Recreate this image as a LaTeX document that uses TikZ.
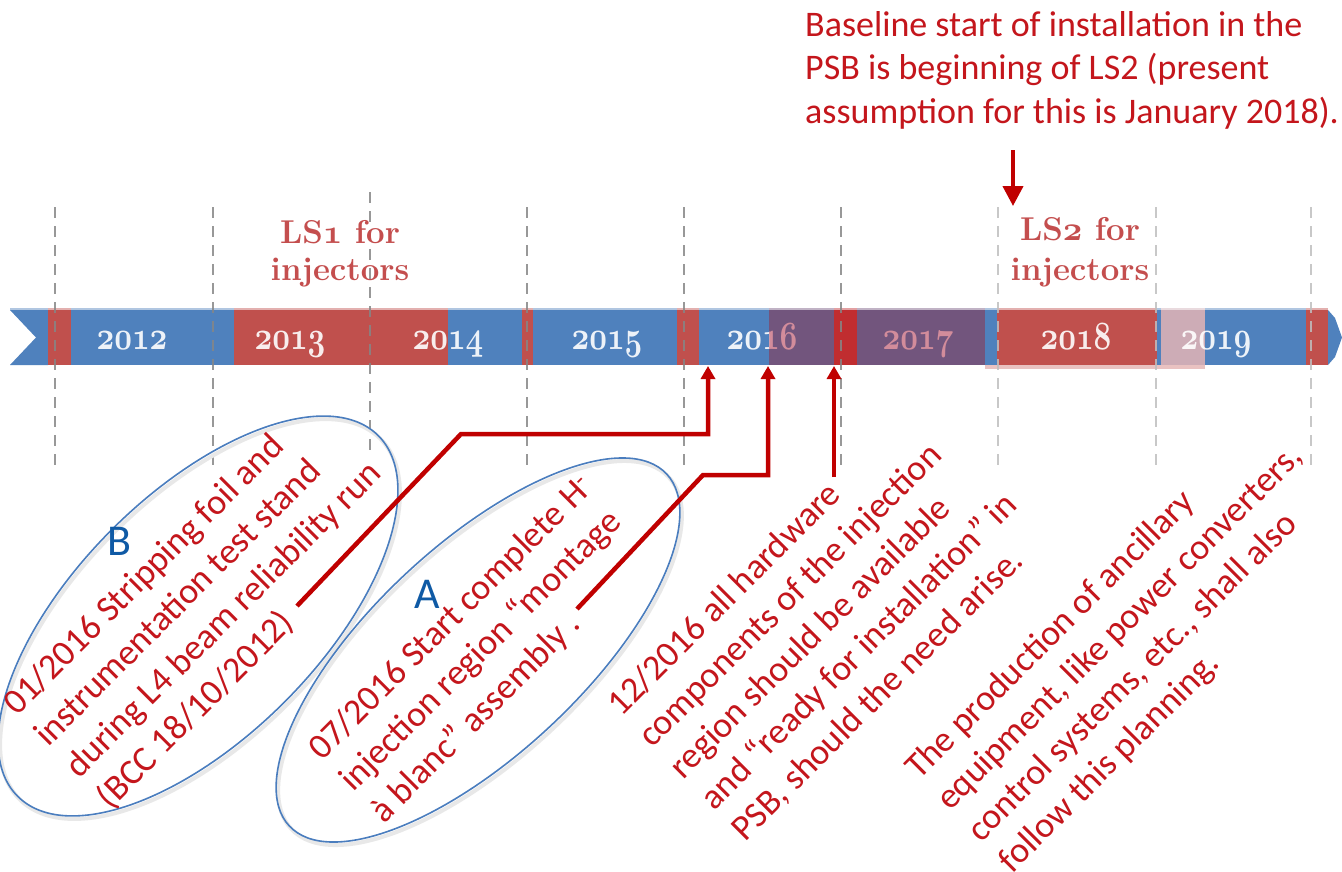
\documentclass[tikz,border=0pt]{standalone}
\usepackage{fontspec}
\usepackage{graphicx}
\usetikzlibrary{arrows.meta}
\newfontfamily\carl{Carlito}
\font\yearfnt=cmmib10 at 40pt
\font\lsdigit=cmmib10 at 34pt
\newcommand\yr[1]{\scalebox{0.77}[1]{#1}}
\definecolor{barblue}{RGB}{79,129,189}
\definecolor{barred}{RGB}{192,80,77}
\definecolor{bardark}{RGB}{192,45,48}
\definecolor{barpurple}{RGB}{114,85,125}
\definecolor{barpink}{RGB}{205,172,182}
\definecolor{yearpink}{RGB}{210,140,155}
\definecolor{lsred}{RGB}{196,78,78}
\definecolor{txtred}{RGB}{196,22,28}
\definecolor{arrred}{RGB}{192,0,0}
\definecolor{ellblue}{RGB}{74,125,190}
\definecolor{lblblue}{RGB}{15,90,165}
\newcommand\barseg[3]{\fill[#3] (#1,310) rectangle (#2,365); \fill[#3!45!white] (#1,307.5) rectangle (#2,310);}
\begin{document}
\begin{tikzpicture}[x=1pt,y=-1pt,
  year/.style={font=\yearfnt, text=white, text opacity=0.9, anchor=base, inner sep=0pt},
  lslabel/.style={font=\fontsize{33}{37}\selectfont\bfseries, text=lsred, anchor=base, inner sep=0pt},
  toptext/.style={font=\carl\fontsize{36}{44}\selectfont, text=txtred, anchor=base west, inner sep=0pt},
  rottext/.style={font=\carl\fontsize{36}{44}\selectfont, text=txtred, anchor=base west, inner sep=0pt, transform shape},
  letter/.style={font=\carl\fontsize{44}{44}\selectfont, text=lblblue, anchor=base west, inner sep=0pt},
  vdash/.style={draw=gray!95, line width=2.2pt, dash pattern=on 11pt off 8pt, opacity=0.85},
  vdashlight/.style={draw=gray!50, line width=2.4pt, dash pattern=on 11pt off 8pt, opacity=0.85},
  conn/.style={draw=arrred, line width=4.5pt, line join=miter},
  conntip/.style={conn, -{Triangle[width=14pt,length=13pt]}},
  oval/.style={draw=ellblue, line width=1.6pt},
  ovalshadow/.style={draw=gray!18, line width=4pt}
]
\useasboundingbox[fill=white] (0,0) rectangle (1342,871);

% ---------- timeline bar ----------
\fill[barred!35!white] (985,364) rectangle (1205,368.5);
\fill[barblue] (10,310) -- (48,310) -- (48,365) -- (10,365) -- (36,337.5) -- cycle;
\fill[barblue!45!white] (10,307.5) rectangle (48,310);
\barseg{48}{71}{barred}
\barseg{71}{234}{barblue}
\barseg{234}{448}{barred}
\barseg{448}{522}{barblue}
\barseg{522}{533}{barred}
\barseg{533}{677}{barblue}
\barseg{677}{699}{barred}
\barseg{699}{769}{barblue}
\barseg{769}{834}{barpurple}
\barseg{834}{857}{bardark}
\barseg{857}{985}{barpurple}
\barseg{985}{997}{barblue}
\barseg{997}{1157}{barred}
\barseg{1157}{1161}{barblue}
\barseg{1161}{1205}{barpink}
\barseg{1205}{1306}{barblue}
\barseg{1306}{1328}{barred}
\fill[barblue] (1328,310) -- (1335,318) -- (1342,337.5) -- (1335,357) -- (1328,365) -- cycle;

% ---------- years ----------
\node[year] (y2012) at (132,349) {\yr{2012}};
\node[year] (y2013) at (290,349) {\yr{2013}};
\node[year] (y2014) at (448,349) {\yr{2014}};
\node[year] (y2015) at (607,349) {\yr{2015}};
\begin{scope}
  \clip (699,300) rectangle (769,372);
  \node[year] (y2016) at (762,349) {\yr{2016}};
\end{scope}
\begin{scope}
  \clip (769,300) rectangle (834,372);
  \node[year, text=yearpink, text opacity=1] (y2016b) at (762,349) {\yr{2016}};
\end{scope}
\node[year, text=yearpink, text opacity=1] (y2017) at (918,349) {\yr{2017}};
\node[year] (y2018) at (1076,349) {\yr{2018}};
\node[year] (y2019) at (1216,349) {\yr{2019}};

% ---------- dashed year separators ----------
\foreach \x in {55,213,527,684,841} \draw[vdash] (\x,207) -- (\x,470);
\draw[vdash] (370,192) -- (370,452);
\foreach \x in {998,1156,1311} \draw[vdashlight] (\x,207) -- (\x,470);

% ---------- LS labels ----------
\node[lslabel] (ls1a) at (340,243) {LS{\lsdigit 1} for};
\node[lslabel] (ls1b) at (340,280) {injectors};
\node[lslabel] (ls2a) at (1080,240) {LS{\lsdigit 2} for};
\node[lslabel] (ls2b) at (1080,280) {injectors};

% ---------- top note ----------
\node[toptext] (top1) at (805,36) {Baseline start of installation in the};
\node[toptext] (top2) at (805,79.5) {PSB is beginning of LS2 (present};
\node[toptext] (top3) at (805,123) {assumption for this is January 2018).};
\coordinate (topfrom) at (1013,150);
\coordinate (topto) at (1013,206);
\draw[draw=arrred, line width=4pt, -{Triangle[width=20pt,length=20pt]}] (topfrom) -- (topto);

% ---------- ellipses ----------
\draw[ovalshadow, rotate around={45:(200,619)}] (200,619) ellipse (255 and 122);
\draw[oval, rotate around={45:(198,616)}] (198,616) ellipse (255 and 122);
\draw[ovalshadow, rotate around={43:(480,653)}] (480,653) ellipse (258 and 105);
\draw[oval, rotate around={43:(478,650)}] (478,650) ellipse (258 and 105);
\node[letter] (lblB) at (107,555) {B};
\node[letter] (lblA) at (414,608) {A};

% ---------- rotated texts ----------
\begin{scope}[shift={(17,717)}, rotate=45]
  \node[rottext] (b1) at (0,0) {01/2016 Stripping foil and};
  \node[rottext] (b2) at (0,44) {instrumentation test stand};
  \node[rottext] (b3) at (0,88) {during L4 beam reliability run};
  \node[rottext] (b4) at (0,132) {(BCC 18/10/2012)};
\end{scope}
\begin{scope}[shift={(322,762)}, rotate=45]
  \node[rottext] (a1) at (0,0) {07/2016 Start complete H\textsuperscript{-}};
  \node[rottext] (a2) at (0,44) {injection region “montage};
  \node[rottext] (a3) at (0,88) {à blanc” assembly .};
\end{scope}
\begin{scope}[shift={(621,718)}, rotate=45]
  \node[rottext] (c1) at (0,0) {12/2016 all hardware};
  \node[rottext] (c2) at (0,44) {components of the injection};
  \node[rottext] (c3) at (0,88) {region should be available};
  \node[rottext] (c4) at (0,132) {and “ready for installation” in};
  \node[rottext] (c5) at (0,176) {PSB, should the need arise.};
\end{scope}
\begin{scope}[shift={(919,781)}, rotate=45]
  \node[rottext] (d1) at (0,0) {The production of ancillary};
  \node[rottext] (d2) at (0,44) {equipment, like power converters,};
  \node[rottext] (d3) at (0,88) {control systems, etc., shall also};
  \node[rottext] (d4) at (0,132) {follow this planning.};
\end{scope}

% ---------- connectors ----------
\coordinate (s1) at (297,606);
\coordinate (t1) at (708,366);
\coordinate (s2) at (577,609);
\coordinate (t2) at (768,366);
\coordinate (s3) at (834,477);
\coordinate (t3) at (834,366);
\draw[conntip] (s1) -- (461,434) -- (t1 |- 434,434) -- (t1);
\draw[conntip] (s2) -- (703,475) -- (t2 |- 475,475) -- (t2);
\draw[conntip] (s3) -- (t3);
\end{tikzpicture}
\end{document}
